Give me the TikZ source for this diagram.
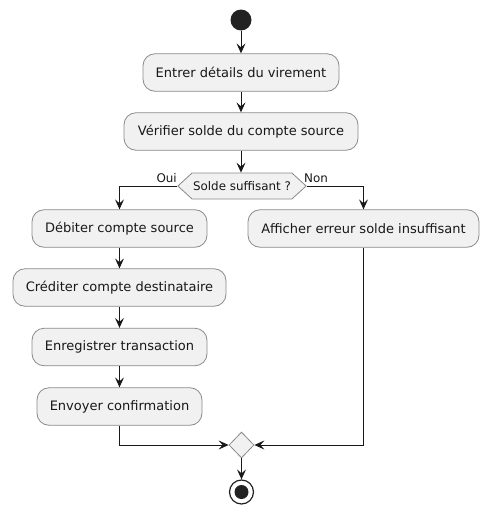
\documentclass[tikz,border=0pt]{standalone}
\usepackage{fontspec}
\setmainfont{DejaVu Sans}
\usetikzlibrary{shapes.geometric,shapes.symbols,arrows.meta}
\definecolor{boxfill}{HTML}{F1F1F1}
\definecolor{boxline}{HTML}{8A8A8A}
\definecolor{arr}{HTML}{181818}
\definecolor{dot}{HTML}{222222}
\begin{document}
\begin{tikzpicture}[x=1pt,y=-1pt,
  actbox/.style={draw=boxline,fill=boxfill,line width=0.8pt,rounded corners=12pt,
    minimum height=37.5pt,inner sep=0pt,font=\fontsize{13}{15}\selectfont,text=arr},
  decbox/.style={draw=boxline,fill=boxfill,line width=0.8pt,signal,signal to=east and west,
    signal pointer angle=85,minimum height=26pt,inner xsep=1pt,inner ysep=0pt,
    font=\fontsize{11.9}{13}\selectfont,text=arr},
  mergebox/.style={draw=boxline,fill=boxfill,line width=0.8pt,diamond,inner sep=0pt,
    minimum width=25pt,minimum height=26pt},
  flow/.style={draw=arr,line width=1pt,-{Stealth[length=10pt,width=9pt,inset=4pt]}},
  lbl/.style={font=\fontsize{11.9}{13}\selectfont,text=arr,inner sep=0pt}]
\useasboundingbox (0,0) rectangle (504,515);
\node[circle,fill=dot,minimum size=21pt,inner sep=0pt] (start) at (241,20) {};
\node[actbox,minimum width=196pt] (b1) at (241,72.5) {Entrer détails du virement};
\node[actbox,minimum width=234pt] (b2) at (241,131.5) {Vérifier solde du compte source};
\node[decbox,minimum width=126pt] (dec) at (242,186) {Solde suffisant ?};
\node[actbox,minimum width=175pt] (b3) at (119.5,228.5) {Débiter compte source};
\node[actbox,minimum width=231pt] (br) at (363.5,228.5) {Afficher erreur solde insuffisant};
\node[actbox,minimum width=213pt] (b4) at (119.5,287.5) {Créditer compte destinataire};
\node[actbox,minimum width=175pt] (b5) at (119.5,347) {Enregistrer transaction};
\node[actbox,minimum width=165pt] (b6) at (119.5,406.5) {Envoyer confirmation};
\node[mergebox] (mg) at (241.5,445) {};
\node[circle,draw=dot,line width=1.2pt,fill=white,minimum size=24pt,inner sep=0pt] (stop) at (241.5,492) {};
\node[circle,fill=dot,minimum size=14pt,inner sep=0pt] (stopin) at (stop.center) {};
\node[lbl,anchor=base east] (oui) at (177,182) {Oui};
\node[lbl,anchor=base west] (non) at (304,182) {Non};
\draw[flow] (start) -- (b1);
\draw[flow] (b1) -- (b2);
\draw[flow] (b2.south) -- (b2.south |- dec.north);
\draw[flow] (dec.west) -| (b3.north);
\draw[flow] (dec.east) -| (br.north);
\draw[flow] (b3) -- (b4);
\draw[flow] (b4) -- (b5);
\draw[flow] (b5) -- (b6);
\draw[flow] (b6.south) |- (mg.west);
\draw[flow] (br.south) |- (mg.east);
\draw[flow] (mg.south) -- (stop.north);
\end{tikzpicture}
\end{document}
